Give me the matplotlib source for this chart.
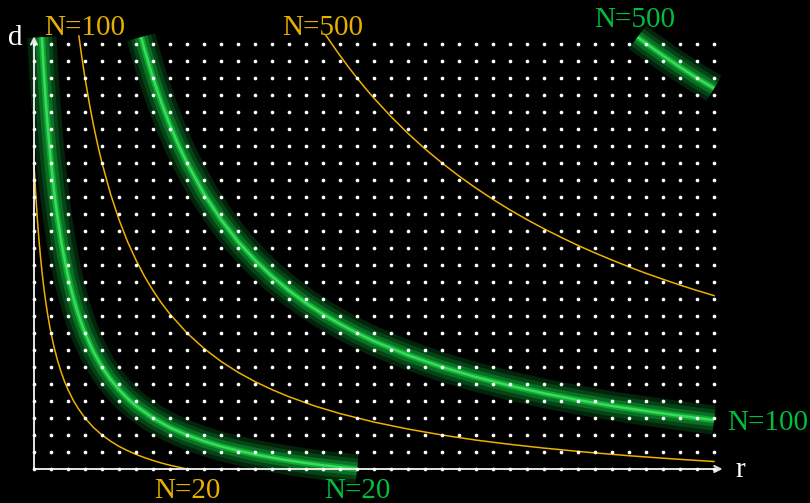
import matplotlib.pyplot as plt

# grid of lattice points (r, d)
r_max = 40
d_max = 25

# yellow curves
y20_r = [0.0, 0.1, 0.2, 0.3, 0.4, 0.5, 0.6, 0.7, 0.8, 0.9, 1.0, 1.2, 1.4, 1.6, 1.8, 2.0, 2.3, 2.6, 3.0,
         3.5, 4.0, 4.5, 5.0, 5.5, 6.0, 6.5, 7.0, 7.5, 8.0, 8.5, 9.0]
y20_d = [18.0, 16.18, 14.67, 13.38, 12.29, 11.33, 10.5, 9.76, 9.11, 8.53, 8.0, 7.09, 6.33, 5.69, 5.14, 4.67,
         4.06, 3.56, 3.0, 2.44, 2.0, 1.64, 1.33, 1.08, 0.86, 0.67, 0.5, 0.35, 0.22, 0.11, 0.0]

y100_r = [2.64, 2.8, 3.0, 3.25, 3.5, 3.75, 4.0, 4.5, 5.0, 5.5, 6.0, 6.5, 7.0, 7.5, 8.0, 9.0, 10.0, 11.0,
          12.0, 13.0, 14.0, 15.0, 16.5, 18.0, 20.0, 22.0, 24.0, 26.0, 28.0, 30.0, 32.5, 35.0, 37.5, 40.0]
y100_d = [25.47, 24.32, 23.0, 21.53, 20.22, 19.05, 18.0, 16.18, 14.67, 13.38, 12.29, 11.33, 10.5, 9.76,
          9.11, 8.0, 7.09, 6.33, 5.69, 5.14, 4.67, 4.25, 3.71, 3.26, 2.76, 2.35, 2.0, 1.7, 1.45, 1.23,
          0.99, 0.78, 0.6, 0.44]

y500_r = [17.18, 17.5, 18.0, 18.5, 19.0, 19.5, 20.0, 21.0, 22.0, 23.0, 24.0, 25.0, 26.0, 27.0, 28.0,
          29.0, 30.0, 31.0, 32.0, 33.0, 34.0, 35.0, 36.0, 37.0, 38.0, 39.0, 40.0]
y500_d = [25.5, 25.03, 24.32, 23.64, 23.0, 22.39, 21.81, 20.73, 19.74, 18.83, 18.0, 17.23, 16.52, 15.86,
          15.24, 14.67, 14.13, 13.63, 13.15, 12.71, 12.29, 11.89, 11.51, 11.16, 10.82, 10.5, 10.2]

# green curves
g20_r = [0.46, 0.5, 0.6, 0.7, 0.8, 0.9, 1.0, 1.2, 1.4, 1.6, 1.8, 2.0, 2.25, 2.5, 2.75, 3.0, 3.5, 4.0,
         4.5, 5.0, 5.5, 6.0, 7.0, 8.0, 9.0, 10.0, 11.0, 12.0, 13.0, 14.0, 15.0, 16.0, 17.0, 18.0, 19.0]
g20_d = [25.4, 24.67, 23.0, 21.53, 20.22, 19.05, 18.0, 16.18, 14.67, 13.38, 12.29, 11.33, 10.31, 9.43,
         8.67, 8.0, 6.89, 6.0, 5.27, 4.67, 4.15, 3.71, 3.0, 2.44, 2.0, 1.64, 1.33, 1.08, 0.86, 0.67,
         0.5, 0.35, 0.22, 0.11, 0.0]

g100_r = [6.3, 6.5, 7.0, 7.5, 8.0, 8.5, 9.0, 10.0, 11.0, 12.0, 13.0, 14.0, 15.0, 16.0, 17.0, 18.0,
          19.0, 20.0, 22.0, 24.0, 26.0, 28.0, 30.0, 32.0, 34.0, 36.0, 38.0, 40.0]
g100_d = [25.4, 24.67, 23.0, 21.53, 20.22, 19.05, 18.0, 16.18, 14.67, 13.38, 12.29, 11.33, 10.5, 9.76,
          9.11, 8.53, 8.0, 7.52, 6.7, 6.0, 5.41, 4.9, 4.45, 4.06, 3.71, 3.41, 3.13, 2.88]

g500_r = [35.5, 36.0, 37.0, 38.0, 39.0, 40.0]
g500_d = [25.4, 25.03, 24.32, 23.64, 23.0, 22.39]

yellow = "#f0b000"
yellow_txt = "#e8b000"
green_txt = "#00bf3a"
glow = [(21, "#03240b"), (15, "#054416"), (9.5, "#097024"), (4.5, "#13a634"), (1.8, "#36dd5a")]

fig = plt.figure(figsize=(8.1, 5.03), dpi=100, facecolor="black")
ax = fig.add_axes([0, 0, 1, 1])
ax.set_facecolor("black")
ax.set_xlim(-2, 45.647)
ax.set_ylim(-2, 27.588)
ax.axis("off")

# green glowing curves
for rs, ds in [(g20_r, g20_d), (g100_r, g100_d), (g500_r, g500_d)]:
    for lw, c in glow:
        ax.plot(rs, ds, color=c, lw=lw, solid_capstyle="butt", zorder=2)

# thin yellow curves
for rs, ds in [(y20_r, y20_d), (y100_r, y100_d), (y500_r, y500_d)]:
    ax.plot(rs, ds, color=yellow, lw=1.1, zorder=3)

# axes with arrows
arrow = dict(arrowstyle="->", color="#e6e6e6", lw=1.4, shrinkA=0, shrinkB=0, mutation_scale=11)
ax.annotate("", xy=(40.5, 0), xytext=(0, 0), arrowprops=arrow, zorder=4)
ax.annotate("", xy=(0, 25.45), xytext=(0, 0), arrowprops=arrow, zorder=4)

# lattice dots
rr = [i for i in range(r_max + 1) for j in range(d_max + 1)]
dd = [j for i in range(r_max + 1) for j in range(d_max + 1)]
ax.scatter(rr, dd, s=7, color="white", linewidths=0, zorder=5)

font = dict(family="Liberation Serif", fontsize=21, va="baseline", zorder=6)
ax.text(3.0, 25.53, "N=100", color=yellow_txt, ha="center", **font)
ax.text(17.0, 25.53, "N=500", color=yellow_txt, ha="center", **font)
ax.text(9.03, -1.71, "N=20", color=yellow_txt, ha="center", **font)
ax.text(35.35, 26.0, "N=500", color=green_txt, ha="center", **font)
ax.text(40.76, 2.29, "N=100", color=green_txt, ha="left", **font)
ax.text(19.03, -1.71, "N=20", color=green_txt, ha="center", **font)
ax.text(-1.12, 24.94, "d", color="white", ha="center", **font)
ax.text(41.55, -0.47, "r", color="white", ha="center", **font)

fig.savefig("out.png", dpi=100, facecolor="black")
